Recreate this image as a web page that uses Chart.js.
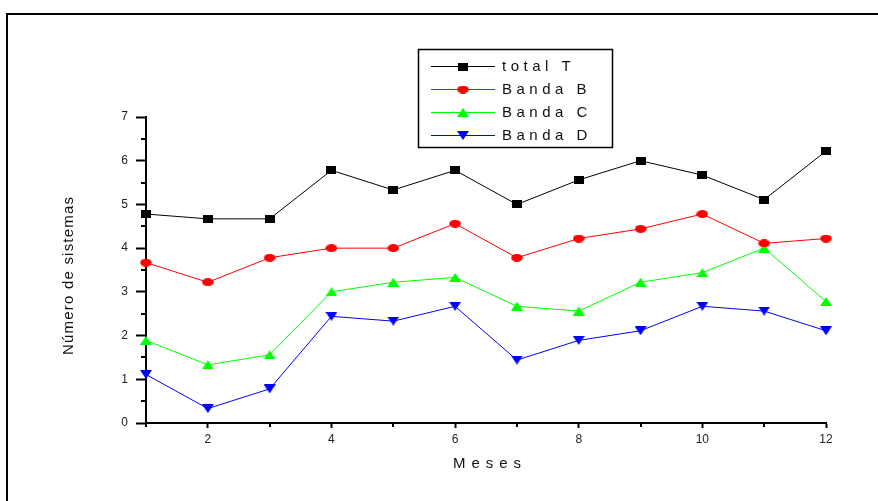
<!DOCTYPE html>
<html>
<head>
<meta charset="utf-8">
<title>Número de sistemas por mes</title>
<script src="https://cdn.jsdelivr.net/npm/chart.js@4.4.1/dist/chart.umd.min.js"></script>
<style>
  html, body { margin: 0; padding: 0; background: #fff; }
  #chart { display: block; }
</style>
</head>
<body>
<canvas id="chart" width="878" height="501"></canvas>
<script>
// values
const meses  = [1, 2, 3, 4, 5, 6, 7, 8, 9, 10, 11, 12];
const totalT = [4.78, 4.67, 4.67, 5.78, 5.33, 5.78, 5.00, 5.56, 6.00, 5.67, 5.11, 6.22];
const bandaB = [3.67, 3.22, 3.78, 4.00, 4.00, 4.56, 3.78, 4.22, 4.44, 4.78, 4.11, 4.22];
const bandaC = [1.89, 1.33, 1.56, 3.00, 3.22, 3.33, 2.67, 2.56, 3.22, 3.44, 4.00, 2.78];
const bandaD = [1.11, 0.33, 0.78, 2.44, 2.33, 2.67, 1.44, 1.89, 2.11, 2.67, 2.56, 2.11];

const xTicks = [2, 4, 6, 8, 10, 12];
const xMinorTicks = [1, 3, 5, 7, 9, 11];
const yTicks = [0, 1, 2, 3, 4, 5, 6, 7];
const yMinorTicks = [0.5, 1.5, 2.5, 3.5, 4.5, 5.5, 6.5];

const FONT = '"Liberation Sans", Arial, sans-serif';

// little canvases used as point markers (Origin style: wide square, flat ellipse, triangles)
function marker(shape, color) {
  const c = document.createElement('canvas');
  const ctx = c.getContext('2d');
  if (shape === 'square') {
    c.width = 10; c.height = 8;
    ctx.fillStyle = color;
    ctx.fillRect(0, 0, 10, 8);
  } else if (shape === 'ellipse') {
    c.width = 12; c.height = 8;
    ctx.fillStyle = color;
    ctx.beginPath();
    ctx.ellipse(6, 4, 5.8, 4, 0, 0, Math.PI * 2);
    ctx.fill();
  } else if (shape === 'up') {
    c.width = 12; c.height = 9;
    ctx.fillStyle = color;
    ctx.beginPath();
    ctx.moveTo(0, 9); ctx.lineTo(6, 0); ctx.lineTo(12, 9);
    ctx.closePath(); ctx.fill();
  } else {
    c.width = 12; c.height = 9;
    ctx.fillStyle = color;
    ctx.beginPath();
    ctx.moveTo(0, 0); ctx.lineTo(12, 0); ctx.lineTo(6, 9);
    ctx.closePath(); ctx.fill();
  }
  return c;
}

function series(label, values, color, shape) {
  return {
    label: label,
    data: meses.map((m, i) => ({ x: m, y: values[i] })),
    borderColor: color,
    backgroundColor: color,
    borderWidth: 1,
    pointStyle: marker(shape, color),
    pointRadius: 6,
    clip: false
  };
}

// draw text with letter spacing (Origin exports look very spread out)
function spacedText(ctx, text, x, y, spacing) {
  const chars = Array.from(text);
  const widths = chars.map(ch => ctx.measureText(ch).width);
  const total = widths.reduce((a, b) => a + b, 0) + spacing * (chars.length - 1);
  let cx = x;
  if (ctx.textAlign === 'center') cx = x - total / 2;
  const oldAlign = ctx.textAlign;
  ctx.textAlign = 'left';
  chars.forEach((ch, i) => {
    ctx.fillText(ch, cx, y);
    cx += widths[i] + spacing;
  });
  ctx.textAlign = oldAlign;
}

const decorations = {
  id: 'decorations',
  beforeDraw(chart) {
    const ctx = chart.ctx;
    ctx.save();
    // outer frame, cut off at right and bottom
    ctx.strokeStyle = '#000';
    ctx.lineWidth = 2;
    ctx.beginPath();
    ctx.moveTo(7, 520);
    ctx.lineTo(7, 14);
    ctx.lineTo(900, 14);
    ctx.stroke();
    ctx.restore();
  },
  afterDraw(chart) {
    const ctx = chart.ctx;
    const xs = chart.scales.x, ys = chart.scales.y;
    ctx.save();

    // minor ticks
    ctx.strokeStyle = '#000';
    ctx.lineWidth = 2;
    ctx.beginPath();
    yMinorTicks.forEach(v => {
      const py = Math.round(ys.getPixelForValue(v));
      ctx.moveTo(xs.left - 5, py);
      ctx.lineTo(xs.left, py);
    });
    xMinorTicks.forEach(v => {
      const px = Math.round(xs.getPixelForValue(v));
      ctx.moveTo(px, ys.bottom);
      ctx.lineTo(px, ys.bottom + 4);
    });
    ctx.stroke();

    // axis titles
    ctx.fillStyle = '#111';
    ctx.font = '15px ' + FONT;
    ctx.textAlign = 'center';
    ctx.textBaseline = 'middle';
    spacedText(ctx, 'Meses', 487, 464, 6);
    ctx.translate(69, 276);
    ctx.rotate(-Math.PI / 2);
    spacedText(ctx, 'Número de sistemas', 0, 0, 1.2);
    ctx.setTransform(1, 0, 0, 1, 0, 0);

    // legend box
    ctx.lineWidth = 1.5;
    ctx.strokeStyle = '#000';
    ctx.strokeRect(418.5, 49.5, 194, 98);
    ctx.font = '15px ' + FONT;
    ctx.textAlign = 'left';
    ctx.textBaseline = 'middle';
    chart.data.datasets.forEach((ds, i) => {
      const y = 66 + i * 23;
      ctx.strokeStyle = ds.borderColor;
      ctx.lineWidth = 1;
      ctx.beginPath();
      ctx.moveTo(431, y + 0.5);
      ctx.lineTo(495, y + 0.5);
      ctx.stroke();
      const img = ds.pointStyle;
      ctx.drawImage(img, 463 - img.width / 2, y + 0.5 - img.height / 2);
      ctx.fillStyle = '#111';
      spacedText(ctx, ds.label, 502, y + 1, 4.5);
    });
    ctx.restore();
  }
};

new Chart(document.getElementById('chart'), {
  type: 'line',
  data: {
    datasets: [
      series('total T', totalT, '#000000', 'square'),
      series('Banda B', bandaB, '#ff0000', 'ellipse'),
      series('Banda C', bandaC, '#00ff00', 'up'),
      series('Banda D', bandaD, '#0000ff', 'down')
    ]
  },
  options: {
    responsive: false,
    animation: false,
    events: [],
    layout: { padding: { left: 0, top: 117, right: 52, bottom: 0 } },
    plugins: {
      legend: { display: false },
      tooltip: { enabled: false }
    },
    scales: {
      x: {
        type: 'linear',
        min: 1,
        max: 12,
        afterBuildTicks: scale => { scale.ticks = xTicks.map(v => ({ value: v })); },
        afterFit: scale => { scale.height = 78; },
        grid: { drawOnChartArea: false, drawTicks: true, tickLength: 5, tickWidth: 2, tickColor: '#000' },
        border: { display: true, color: '#000', width: 2 },
        ticks: {
          autoSkip: false,
          maxRotation: 0,
          padding: 4,
          color: '#222',
          font: { family: FONT, size: 12 }
        }
      },
      y: {
        min: 0,
        max: 7,
        afterBuildTicks: scale => { scale.ticks = yTicks.map(v => ({ value: v })); },
        afterFit: scale => { scale.width = 146; },
        grid: { drawOnChartArea: false, drawTicks: true, tickLength: 10, tickWidth: 2, tickColor: '#000' },
        border: { display: true, color: '#000', width: 2 },
        ticks: {
          padding: 8,
          color: '#222',
          font: { family: FONT, size: 12 }
        }
      }
    }
  },
  plugins: [decorations]
});
</script>
</body>
</html>
